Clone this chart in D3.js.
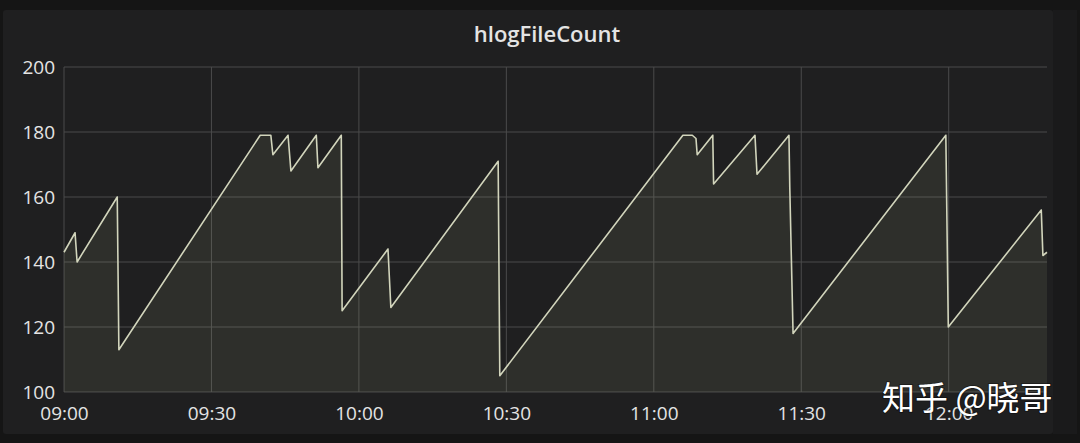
<!DOCTYPE html>
<html>
<head>
<meta charset="utf-8">
<script src="https://cdn.jsdelivr.net/npm/d3@7"></script>
<style>
html,body{margin:0;padding:0;background:#151515;}
svg{display:block;}
</style>
</head>
<body>
<svg id="chart" width="1080" height="443"></svg>
<script>
// ---- data ----
const title = "hlogFileCount";
const times = ["09:00:00","09:02:15","09:02:40","09:10:50","09:11:10","09:39:55","09:42:05","09:42:30",
  "09:45:35","09:46:10","09:51:20","09:51:40","09:56:25","09:56:35","10:05:55","10:06:30","10:28:20",
  "10:28:40","11:05:55","11:07:50","11:08:35","11:08:50","11:12:00","11:12:10","11:20:35","11:21:00",
  "11:27:30","11:27:40","11:28:20","11:59:25","11:59:55","12:18:50","12:19:10","12:20:00"];
const values = [143,149,140,160,113,179,179,173,
  179,168,179,169,179,125,144,126,171,
  105,179,179,178,173,179,164,179,167,
  179,163,118,179,120,156,142,143];
const yTicks = [100,120,140,160,180,200];
const xTickLabels = ["09:00","09:30","10:00","10:30","11:00","11:30","12:00"];
const watermark = "知乎 @晓哥";

// ---- chart ----
const parse = d3.timeParse("%H:%M:%S");
const parseHM = d3.timeParse("%H:%M");
const data = times.map((t,i)=>({t:parse(t), v:values[i]}));

const svg = d3.select("#chart");
const W = 1080, H = 443;
const m = {left:64, right:33, top:67, bottom:51};

svg.append("rect").attr("x",3).attr("y",10).attr("width",1050).attr("height",424)
  .attr("rx",3).attr("fill","#1f1f20");
svg.append("rect").attr("x",1053).attr("y",10).attr("width",24).attr("height",424)
  .attr("fill","#1a1a1b");

const x = d3.scaleTime().domain([parse("09:00:00"), parse("12:20:00")]).range([m.left, W-m.right]);
const y = d3.scaleLinear().domain([100,200]).range([H-m.bottom, m.top]);

// grid
const g = svg.append("g");
g.selectAll("line.h").data(yTicks).join("line")
  .attr("x1",m.left).attr("x2",W-m.right)
  .attr("y1",d=>y(d)).attr("y2",d=>y(d))
  .attr("stroke","#4b4b4b").attr("stroke-width",1);
g.selectAll("line.v").data(xTickLabels).join("line")
  .attr("x1",d=>x(parseHM(d))).attr("x2",d=>x(parseHM(d)))
  .attr("y1",m.top).attr("y2",H-m.bottom)
  .attr("stroke","#4b4b4b").attr("stroke-width",1);

// area + line
const area = d3.area().x(d=>x(d.t)).y0(y(100)).y1(d=>y(d.v));
const line = d3.line().x(d=>x(d.t)).y(d=>y(d.v));
svg.append("path").datum(data).attr("d",area).attr("fill","#c8cfa0").attr("fill-opacity",0.09);
svg.append("path").datum(data).attr("d",line).attr("fill","none")
  .attr("stroke","#d2d5bc").attr("stroke-width",1.6).attr("stroke-linejoin","round");

// axes
const yAxis = d3.axisLeft(y).tickValues(yTicks).tickSize(0).tickPadding(9);
const ya = svg.append("g").attr("transform",`translate(${m.left},0)`).call(yAxis);
ya.select(".domain").remove();
ya.selectAll("text").attr("fill","#e4e4e4").style("font-family","'Open Sans', sans-serif").style("font-size","19px");

const xAxis = d3.axisBottom(x).tickValues(xTickLabels.map(parseHM)).tickSize(0).tickPadding(15)
  .tickFormat(d3.timeFormat("%H:%M"));
const xa = svg.append("g").attr("transform",`translate(0,${H-m.bottom})`).call(xAxis);
xa.select(".domain").remove();
xa.selectAll("text").attr("fill","#e4e4e4").style("font-family","'Open Sans', sans-serif").style("font-size","19px");

// title
svg.append("text").attr("x",547).attr("y",42).attr("text-anchor","middle")
  .attr("fill","#e4e4e4").style("font-family","'Open Sans', sans-serif")
  .style("font-size","22px").style("font-weight","600").text(title);

// watermark
svg.append("text").attr("x",882).attr("y",410)
  .attr("fill","#ffffff").style("font-family","'Noto Sans CJK SC', sans-serif")
  .style("font-size","33px").style("paint-order","stroke").attr("stroke","rgba(0,0,0,0.35)").attr("stroke-width",2)
  .text(watermark);
</script>
</body>
</html>
